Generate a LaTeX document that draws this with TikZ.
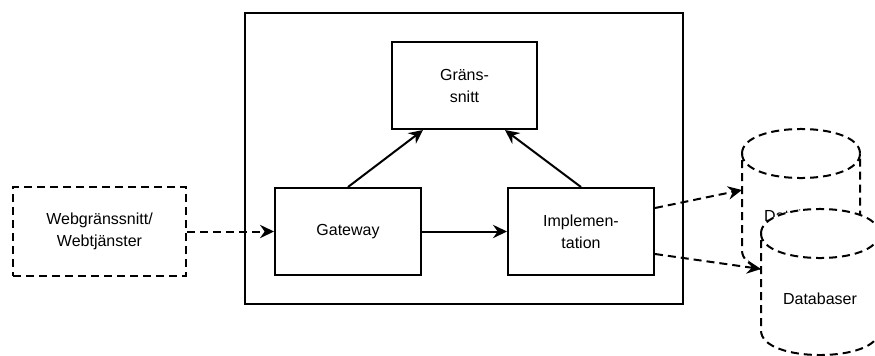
\documentclass[tikz,border=0pt]{standalone}
\usepackage{fontspec}
\setmainfont{Liberation Sans}
\usetikzlibrary{arrows.meta,calc}
\begin{document}
\begin{tikzpicture}[x=0.75pt,y=-0.75pt,
  every node/.style={font=\fontsize{12}{16.5}\selectfont, align=center},
  compbox/.style={draw, line width=1.5pt, minimum width=109.5pt, minimum height=65.25pt, inner sep=0pt},
  dashstroke/.style={line width=1.5pt, dash pattern=on 6pt off 3.75pt},
  tip/.style={-{Stealth[length=10.5pt,width=10pt,inset=3.5pt]}},
  flow/.style={line width=1.5pt, tip},
  dflow/.style={dashstroke, tip},
  dbshape/.style={draw, dashstroke, fill=white, line join=miter}
]
\useasboundingbox (0,0) rectangle (875,355);
\clip (0,0) rectangle (875,355);

% system boundary
\node[draw, line width=1.5pt, minimum width=328.5pt, minimum height=218.25pt, inner sep=0pt] (sys) at (464,158.5) {};

% components
\node[compbox, minimum width=108.75pt] (gr) at (464.5,85.5) {Gräns-\\snitt};
\node[compbox] (gw) at (348,231.5) {Gateway};
\node[compbox] (impl) at (581,231.5) {Implemen-\\tation};

% external client
\node[draw, dashstroke, minimum width=129.75pt, minimum height=66.75pt, inner sep=0pt] (web) at (99.5,231.5) {Webgränssnitt/\\Webtjänster};

% internal flows
\draw[dflow] (web.east) -- (gw.west);
\draw[flow] (gw.east) -- (impl.west);
\draw[flow] (gw.north) -- ($(gr.south)+(-41.5,0)$);
\draw[flow] (impl.north) -- ($(gr.south)+(40.5,0)$);

% back database
\coordinate (db1w) at (742,190);
\path[dbshape] (742,153.5) .. controls (742,120.8) and (860,120.8) .. (860,153.5)
  -- (860,250.5) .. controls (860,283.2) and (742,283.2) .. (742,250.5) -- cycle;
\draw[dashstroke] (742,153.5) .. controls (742,186.2) and (860,186.2) .. (860,153.5);
\node (db1t) at (801,216) {Databaser};
\draw[dflow] ($(impl.east)+(0,-23.5)$) -- (db1w);

% front database
\coordinate (db2w) at (761,269);
\path[dbshape] (761,233.5) .. controls (761,200.8) and (879,200.8) .. (879,233.5)
  -- (879,330.5) .. controls (879,363.2) and (761,363.2) .. (761,330.5) -- cycle;
\draw[dashstroke] (761,233.5) .. controls (761,266.2) and (879,266.2) .. (879,233.5);
\node (db2t) at (820,299) {Databaser};
\draw[dflow] ($(impl.east)+(0,22.5)$) -- (db2w);
\end{tikzpicture}
\end{document}
